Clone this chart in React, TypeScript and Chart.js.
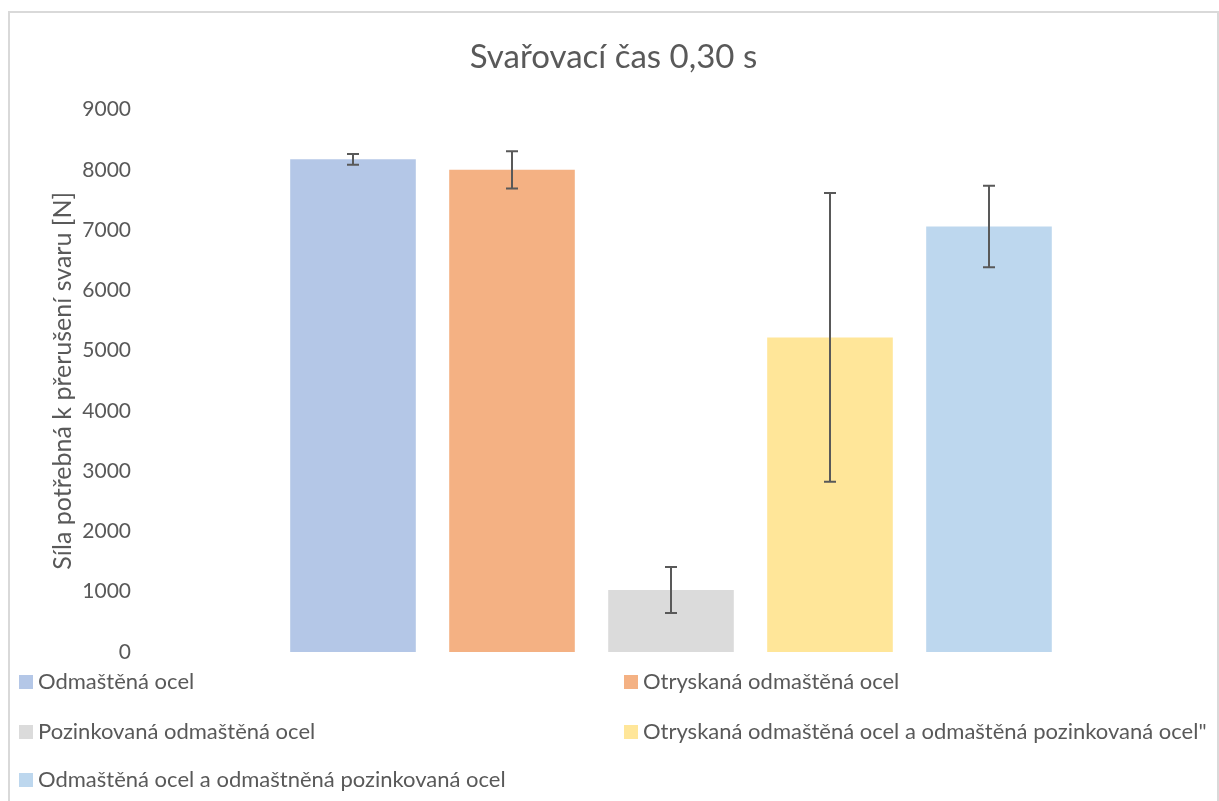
import React, { useEffect, useRef } from "react";
import { Chart, registerables } from "chart.js";

Chart.register(...registerables);

const titleText = "Svařovací čas 0,30 s";
const yAxisTitle = "Síla potřebná k přerušení svaru [N]";
const seriesNames = [
  "Odmaštěná ocel",
  "Otryskaná odmaštěná ocel",
  "Pozinkovaná odmaštěná ocel",
  "Otryskaná odmaštěná ocel a odmaštěná pozinkovaná ocel\"",
  "Odmaštěná ocel a odmaštněná pozinkovaná ocel",
];
const seriesValues = [8175, 8000, 1030, 5220, 7060];
const seriesErrors = [90, 308, 382, 2395, 675];
const seriesColors = ["#b4c7e7", "#f4b183", "#dbdbdb", "#ffe699", "#bdd7ee"];
const categories = [""];
const yMin = 0;
const yMax = 9000;
const yStep = 1000;

const FONT = "Lato, 'Open Sans', sans-serif";
const TEXT = "#595959";

const errorBarPlugin = {
  id: "errorBars",
  afterDatasetsDraw(chart: any) {
    const ctx = chart.ctx;
    const yScale = chart.scales.y;
    ctx.save();
    ctx.strokeStyle = "#595959";
    ctx.lineWidth = 2;
    chart.data.datasets.forEach((ds: any, i: number) => {
      const meta = chart.getDatasetMeta(i);
      const bar = meta.data[0];
      if (!bar) return;
      const v = ds.data[0];
      const e = ds.errors[0];
      const x = Math.round(bar.x);
      const yT = yScale.getPixelForValue(v + e);
      const yB = yScale.getPixelForValue(v - e);
      ctx.beginPath();
      ctx.moveTo(x, yT);
      ctx.lineTo(x, yB);
      ctx.moveTo(x - 6, yT);
      ctx.lineTo(x + 6, yT);
      ctx.moveTo(x - 6, yB);
      ctx.lineTo(x + 6, yB);
      ctx.stroke();
    });
    ctx.restore();
  },
};

const legendPlugin = {
  id: "gridLegend",
  afterDraw(chart: any) {
    const ctx = chart.ctx;
    const base = chart.chartArea.bottom;
    const colX = [9, 614];
    const rowY = [30, 80, 128];
    ctx.save();
    ctx.font = `22px ${FONT}`;
    ctx.textBaseline = "middle";
    ctx.textAlign = "left";
    chart.data.datasets.forEach((ds: any, i: number) => {
      const col = i % 2;
      const row = Math.floor(i / 2);
      const x = colX[col];
      const y = base + rowY[row];
      ctx.fillStyle = ds.backgroundColor;
      ctx.fillRect(x, y - 7, 14, 14);
      ctx.fillStyle = TEXT;
      ctx.fillText(ds.label, x + 19, y);
    });
    ctx.restore();
  },
};

function ChartView() {
  const ref = useRef<HTMLCanvasElement | null>(null);
  useEffect(() => {
    if (!ref.current) return;
    const chart = new Chart(ref.current, {
      type: "bar",
      data: {
        labels: categories,
        datasets: seriesNames.map((name, i) => ({
          label: name,
          data: [seriesValues[i]],
          errors: [seriesErrors[i]],
          backgroundColor: seriesColors[i],
          borderWidth: 0,
        })) as any,
      },
      options: {
        animation: false,
        responsive: true,
        maintainAspectRatio: false,
        layout: { padding: { top: 0, right: 10, bottom: 149, left: 10 } },
        datasets: { bar: { categoryPercentage: 0.7416, barPercentage: 0.79 } },
        plugins: {
          legend: { display: false },
          tooltip: { enabled: false },
          title: {
            display: true,
            text: titleText,
            color: TEXT,
            font: { family: FONT, size: 33, weight: "normal" },
            padding: { top: 25, bottom: 32 },
          },
        },
        scales: {
          x: { display: false },
          y: {
            min: yMin,
            max: yMax,
            ticks: {
              stepSize: yStep,
              color: TEXT,
              padding: 4,
              font: { family: FONT, size: 21 },
              callback: (v: any) => String(v),
            },
            grid: { display: false, drawTicks: false },
            border: { display: false },
            title: {
              display: true,
              text: yAxisTitle,
              color: TEXT,
              font: { family: FONT, size: 25, weight: "normal" },
              padding: { top: 28, bottom: 0 },
            },
            afterFit(scale: any) {
              scale.width = 115;
            },
          },
        },
      } as any,
      plugins: [errorBarPlugin, legendPlugin],
    });
    return () => chart.destroy();
  }, []);
  return <canvas ref={ref} />;
}

export default function App() {
  return (
    <div
      style={{
        position: "fixed",
        left: 8,
        top: 11,
        width: 1211,
        height: 790,
        border: "2px solid #d9d9d9",
        borderBottom: "none",
        boxSizing: "border-box",
        background: "#fff",
      }}
    >
      <div style={{ position: "relative", width: "100%", height: "100%" }}>
        <ChartView />
      </div>
    </div>
  );
}
